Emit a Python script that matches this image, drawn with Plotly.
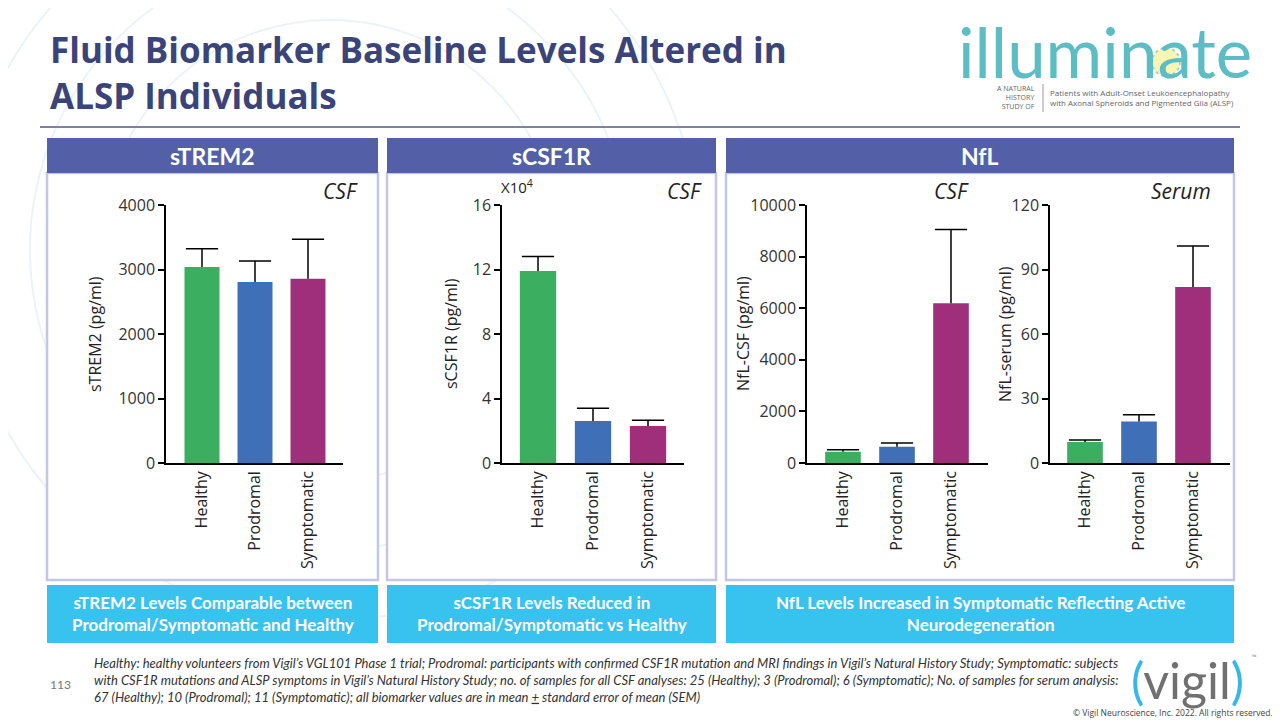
import plotly.graph_objects as go

# ---------------- data ----------------
categories = ["Healthy", "Prodromal", "Symptomatic"]
strem2_mean = [3040, 2805, 2855]
strem2_sem = [280, 325, 615]
scsf1r_mean = [11.9, 2.6, 2.3]          # x10^4 pg/ml
scsf1r_sem = [0.9, 0.8, 0.35]
nfl_csf_mean = [440, 630, 6190]
nfl_csf_sem = [70, 150, 2860]
nfl_serum_mean = [9.8, 19.3, 81.9]
nfl_serum_sem = [0.9, 3.1, 19.0]

strem2_ticks = [0, 1000, 2000, 3000, 4000]
scsf1r_ticks = [0, 4, 8, 12, 16]
nfl_csf_ticks = [0, 2000, 4000, 6000, 8000, 10000]
nfl_serum_ticks = [0, 30, 60, 90, 120]

bar_colors = ["#3BAE5F", "#3F6FB6", "#A02F7B"]

# page body margin offset (the html body has an 8px default margin)
OX, OY = 8, 8
W, H = 1272, 712
def px(x): return (x - OX) / W
def py(y): return 1 - (y - OY) / H

fig = go.Figure()

charts = [
    (strem2_mean, strem2_sem, strem2_ticks, 166, 343, 202, 53, "sTREM2 (pg/ml)", 95),
    (scsf1r_mean, scsf1r_sem, scsf1r_ticks, 502, 684, 538, 55, "sCSF1R (pg/ml)", 451),
    (nfl_csf_mean, nfl_csf_sem, nfl_csf_ticks, 807, 988, 843, 54, "NfL-CSF (pg/ml)", 743),
    (nfl_serum_mean, nfl_serum_sem, nfl_serum_ticks, 1050, 1230, 1085, 54, "NfL-serum (pg/ml)", 1005),
]

def ann(x, y, text, size, color="#222", family="Open Sans", xanchor="center",
        yanchor="middle", align="center", angle=0):
    return dict(x=px(x), y=py(y), xref="paper", yref="paper", text=text,
                showarrow=False, xanchor=xanchor, yanchor=yanchor, align=align,
                textangle=angle, font=dict(family=family, size=size, color=color))

y0px, y1px = 463, 205
annotations = []
for i, (means, sems, ticks, ax0, ax1, c0, sp, ytitle, ytx) in enumerate(charts):
    n = "" if i == 0 else str(i + 1)
    fig.add_trace(go.Bar(
        x=categories, y=means,
        marker=dict(color=bar_colors, line=dict(width=0)),
        error_y=dict(type="data", symmetric=False, array=sems,
                     arrayminus=[0] * len(sems), color="black",
                     thickness=1.5, width=0),
        width=0.66,
        xaxis="x" + n, yaxis="y" + n, showlegend=False,
    ))
    # error bar caps (top only)
    fig.add_trace(go.Scatter(
        x=categories, y=[m + s for m, s in zip(means, sems)], mode="markers",
        marker=dict(symbol="line-ew", size=23, color="black",
                    line=dict(width=1.5, color="black")),
        xaxis="x" + n, yaxis="y" + n, showlegend=False, hoverinfo="skip",
        cliponaxis=False,
    ))
    xr = [(ax0 - c0) / sp, (ax1 - c0) / sp]
    fig.update_layout(**{
        "xaxis" + n: dict(
            domain=[px(ax0), px(ax1)], range=xr, anchor="y" + n,
            showline=True, linecolor="black", linewidth=1.5, automargin=False,
            ticks="", tickangle=-90, showgrid=False, zeroline=False,
            tickfont=dict(family="Open Sans", size=16, color="#222"),
            fixedrange=True,
        ),
        "yaxis" + n: dict(
            domain=[py(y0px), py(y1px)], range=[0, ticks[-1]], anchor="x" + n,
            tickvals=ticks, tickformat="d", showline=True, linecolor="black",
            linewidth=1.5, automargin=False,
            ticks="outside", ticklen=6, tickwidth=1.5, tickcolor="black",
            showgrid=False, zeroline=False,
            tickfont=dict(family="Open Sans", size=16, color="#333"),
            fixedrange=True,
        ),
    })
    annotations.append(ann(ytx, (y0px + y1px) / 2, ytitle, 16, angle=-90))

shapes = []
def rect(x0, x1, y0, y1, fill, line=None, layer="below"):
    return dict(type="rect", xref="paper", yref="paper", layer=layer,
                x0=px(x0), x1=px(x1), y0=py(y1), y1=py(y0),
                fillcolor=fill, line=line or dict(width=0))

# faint watermark arcs behind the title
for (cx, cy, r) in [(330, 250, 230), (330, 250, 300), (330, 250, 370)]:
    shapes.append(dict(type="circle", xref="paper", yref="paper", layer="below",
                       x0=px(cx - r), x1=px(cx + r), y0=py(cy + r), y1=py(cy - r),
                       line=dict(color="rgba(200,220,235,0.35)", width=2)))

# title rule
shapes.append(dict(type="line", xref="paper", yref="paper",
                   x0=px(40), x1=px(1240), y0=py(127), y1=py(127),
                   line=dict(color="#7D82A3", width=2)))

panels = [(47, 378, "sTREM2", "sTREM2 Levels Comparable between<br>Prodromal/Symptomatic and Healthy"),
          (387, 716, "sCSF1R", "sCSF1R Levels Reduced in<br>Prodromal/Symptomatic vs Healthy"),
          (726, 1234, "NfL", "NfL Levels Increased in Symptomatic Reflecting Active<br>Neurodegeneration")]
for (x0, x1, head, foot) in panels:
    shapes.append(rect(x0, x1, 173, 580, "white", dict(color="#C3C7E2", width=2.5)))
    shapes.append(rect(x0, x1, 138, 173, "#5360A8"))
    shapes.append(rect(x0, x1, 585, 643, "#38C3EF"))
    annotations.append(ann((x0 + x1) / 2, 156, "<b>" + head + "</b>", 23,
                           color="white", family="Lato"))
    annotations.append(ann((x0 + x1) / 2, 613, "<b>" + foot + "</b>", 17,
                           color="white", family="Lato"))

# CSF / Serum labels
for (tx, t) in [(340, "CSF"), (684, "CSF"), (952, "CSF"), (1181, "Serum")]:
    annotations.append(ann(tx, 191, "<i>" + t + "</i>", 21))
annotations.append(ann(499, 186, "X10<sup>4</sup>", 15, xanchor="left"))

# Title
annotations.append(ann(48, 72, "<b>Fluid Biomarker Baseline Levels Altered in<br>ALSP Individuals</b>",
                       35, color="#3B4479", xanchor="left", align="left"))

# illuminate logo
shapes.append(dict(type="circle", xref="paper", yref="paper", layer="below",
                   x0=px(1152), x1=px(1180), y0=py(76), y1=py(48),
                   fillcolor="rgba(248,243,160,0.8)",
                   line=dict(color="rgba(110,170,215,0.55)", width=2, dash="dot")))
annotations.append(ann(1105, 51, "illuminate", 69, color="#5CBDC5", family="Lato"))
annotations.append(ann(1037, 97, "A NATURAL<br>HISTORY<br>STUDY OF", 7, color="#666",
                       xanchor="right", align="right"))
shapes.append(dict(type="line", xref="paper", yref="paper",
                   x0=px(1043), x1=px(1043), y0=py(84), y1=py(112),
                   line=dict(color="#999", width=1)))
annotations.append(ann(1048, 97, "Patients with Adult-Onset Leukoencephalopathy<br>with Axonal Spheroids and Pigmented Glia (ALSP)",
                       8, color="#666", xanchor="left", align="left"))

# footnote
annotations.append(ann(92, 680,
    "<i>Healthy: healthy volunteers from Vigil’s VGL101 Phase 1 trial; Prodromal: participants with confirmed CSF1R mutation and MRI findings in Vigil’s Natural History Study; Symptomatic: subjects<br>"
    "with CSF1R mutations and ALSP symptoms in Vigil’s Natural History Study; no. of samples for all CSF analyses: 25 (Healthy); 3 (Prodromal); 6 (Symptomatic); No. of samples for serum analysis:<br>"
    "67 (Healthy); 10 (Prodromal); 11 (Symptomatic); all biomarker values are in mean <u>+</u> standard error of mean (SEM)</i>",
    13, color="#333", family="Lato", xanchor="left", align="left"))
annotations.append(ann(60, 684, "113", 12, color="#777", family="Lato"))
# vigil logo
annotations.append(ann(1187, 680,
    "<span style='color:#35B8E8'>(</span>vigil<span style='color:#35B8E8'>)</span>",
    50, color="#707070", family="Lato"))
annotations.append(ann(1250, 657, "™", 6, color="#888", xanchor="left"))
annotations.append(ann(1275, 712, "© Vigil Neuroscience, Inc. 2022. All rights reserved.",
                       8.5, color="#444", xanchor="right"))

fig.update_layout(
    width=W, height=H, margin=dict(l=0, r=0, t=0, b=0, autoexpand=False),
    paper_bgcolor="white", plot_bgcolor="rgba(0,0,0,0)",
    shapes=shapes, annotations=annotations, showlegend=False,
)

fig.write_html("out.html")
